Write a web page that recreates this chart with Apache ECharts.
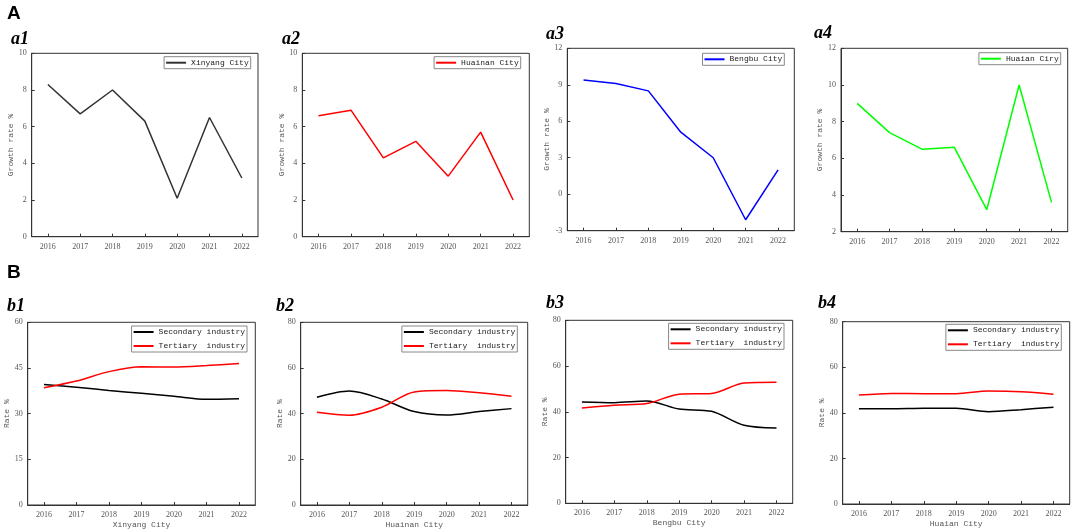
<!DOCTYPE html>
<html>
<head>
<meta charset="utf-8">
<title>Growth rate and industry structure</title>
<script src="https://cdn.jsdelivr.net/npm/echarts@6/dist/echarts.min.js"></script>
<style>
  html, body { margin: 0; padding: 0; background: #fff; }
  #chart_container { width: 1072px; height: 532px; }
</style>
</head>
<body>
<div id="chart_container"></div>
<script>
// years on every x axis
const years = ["2016", "2017", "2018", "2019", "2020", "2021", "2022"]

// A: growth rate %
const xinyangGrowth = [8.3, 6.7, 8.0, 6.3, 2.1, 6.5, 3.2]
const huainanGrowth = [6.6, 6.9, 4.3, 5.2, 3.3, 5.7, 2.0]
const bengbuGrowth = [9.4, 9.1, 8.5, 5.1, 3.0, -2.1, 2.0]
const huaianGrowth = [9.0, 7.4, 6.5, 6.6, 3.2, 10.0, 3.6]

// B: share of secondary / tertiary industry %
const xinyangSecondary = [39.6, 38.7, 37.6, 36.7, 35.7, 34.7, 34.9]
const xinyangTertiary = [38.5, 40.7, 43.8, 45.4, 45.3, 45.8, 46.5]
const huainanSecondary = [47.2, 49.9, 46.4, 40.9, 39.4, 40.9, 42.2]
const huainanTertiary = [40.6, 39.3, 42.8, 49.5, 50.1, 49.1, 47.6]
const bengbuSecondary = [44.3, 44.0, 44.7, 41.2, 40.2, 34.1, 32.9]
const bengbuTertiary = [41.7, 42.9, 43.6, 47.7, 48.0, 52.6, 52.9]
const huaianSecondary = [41.8, 41.8, 42.0, 42.0, 40.5, 41.4, 42.5]
const huaianTertiary = [47.8, 48.5, 48.4, 48.4, 49.6, 49.3, 48.2]

const topNames = ["Xinyang City", "Huainan City", "Bengbu City", "Huaian Ciry"]
const bottomNames = ["Xinyang City", "Huainan City", "Bengbu City", "Huaian City"]
const industryNames = ["Secondary industry", "Tertiary  industry"]

document.addEventListener("DOMContentLoaded", buildCharts);

// panel boxes [left, top, width, height] and legend [right, top]
const panels = [
    {grid:[31.7, 53.3, 226.3, 183.4], legend:[821.3, 56.7], y:[0, 10, 2], label:"a1", lp:[6, 25]},
    {grid:[302.3, 53.3, 227, 183.4], legend:[551.3, 56.7], y:[0, 10, 2], label:"a2", lp:[277, 25]},
    {grid:[567.3, 48.3, 227, 182.4], legend:[287.7, 53.3], y:[-3, 12, 3], label:"a3", lp:[541, 20]},
    {grid:[841, 48.3, 226.7, 183.4], legend:[11.3, 52.7], y:[2, 12, 2], label:"a4", lp:[809, 19]},
    {grid:[27.7, 322.3, 227.6, 182.7], legend:[825, 326], y:[0, 60, 15], label:"b1", lp:[2, 292]},
    {grid:[300.7, 322.3, 227, 182.7], legend:[554.7, 326], y:[0, 80, 20], label:"b2", lp:[271, 292]},
    {grid:[565.7, 320.3, 227, 183], legend:[288, 323.3], y:[0, 80, 20], label:"b3", lp:[541, 289]},
    {grid:[842.7, 321.7, 227, 182.3], legend:[10.7, 324.3], y:[0, 80, 20], label:"b4", lp:[813, 289]}
]

const topSeries = [
    {data: xinyangGrowth, color: "#333333"},
    {data: huainanGrowth, color: "#ff0000"},
    {data: bengbuGrowth, color: "#0000ff"},
    {data: huaianGrowth, color: "#00ff00"}
]
const bottomSeries = [
    [xinyangSecondary, xinyangTertiary],
    [huainanSecondary, huainanTertiary],
    [bengbuSecondary, bengbuTertiary],
    [huaianSecondary, huaianTertiary]
]

function buildCharts(){
    let chart = echarts.init(document.getElementById('chart_container'), null, {renderer: 'canvas'})

    let tickFont = {fontFamily: "Liberation Serif", fontSize: 8, color: "#555"}
    let monoFont = {fontFamily: "Liberation Mono", fontSize: 8, color: "#555"}

    let grid = [], xAxis = [], yAxis = [], series = [], legend = []
    let title = [
        {text: "A", left: 2, top: -1, textStyle: {fontFamily: "Liberation Sans", fontWeight: "bold", fontSize: 19, color: "#000"}},
        {text: "B", left: 2, top: 258, textStyle: {fontFamily: "Liberation Sans", fontWeight: "bold", fontSize: 19, color: "#000"}}
    ]

    panels.forEach((p, i) => {
        let isTop = i < 4
        grid.push({
            left: p.grid[0], top: p.grid[1], width: p.grid[2], height: p.grid[3],
            show: true, borderColor: "#333", borderWidth: 1, backgroundColor: "transparent"
        })
        title.push({
            text: p.label, left: p.lp[0], top: p.lp[1],
            textStyle: {fontFamily: "Liberation Serif", fontStyle: "italic", fontWeight: "bold", fontSize: 18, color: "#000"}
        })
        xAxis.push({
            type: "category", gridIndex: i, data: years, boundaryGap: true,
            name: isTop ? "" : bottomNames[i - 4],
            nameLocation: "middle", nameGap: 16, nameTextStyle: monoFont,
            axisLine: {show: true, onZero: false, lineStyle: {color: "#333"}},
            axisTick: {show: true, inside: true, alignWithLabel: true, length: 3, lineStyle: {color: "#333"}},
            axisLabel: {...tickFont, margin: 6},
            splitLine: {show: false}
        })
        yAxis.push({
            type: "value", gridIndex: i, min: p.y[0], max: p.y[1], interval: p.y[2],
            name: isTop ? "Growth rate %" : "Rate %",
            nameLocation: "middle", nameGap: isTop ? 14 : 13, nameTextStyle: monoFont,
            axisLine: {show: true, onZero: false, lineStyle: {color: "#333"}},
            axisTick: {show: true, inside: true, length: 3, lineStyle: {color: "#333"}},
            axisLabel: {...tickFont, margin: 5},
            splitLine: {show: false}
        })

        let legendBase = {
            right: p.legend[0], top: p.legend[1], orient: "vertical",
            borderColor: "#888", borderWidth: 1, padding: [2, 2, 2, 2],
            icon: "rect", itemWidth: 20, itemHeight: 2, itemGap: 6,
            textStyle: {fontFamily: "Liberation Mono", fontSize: 8, color: "#222"}
        }

        if (isTop){
            let s = topSeries[i]
            let name = topNames[i]
            series.push({
                name: name, type: "line", xAxisIndex: i, yAxisIndex: i,
                data: s.data, symbol: "none", color: s.color,
                lineStyle: {color: s.color, width: 1.5}
            })
            legend.push({...legendBase, data: [name]})
        } else {
            let pair = bottomSeries[i - 4]
            let colors = ["#000000", "#ff0000"]
            pair.forEach((d, k) => {
                series.push({
                    name: industryNames[k], type: "line", xAxisIndex: i, yAxisIndex: i,
                    data: d, symbol: "none", smooth: 0.3, color: colors[k],
                    lineStyle: {color: colors[k], width: 1.5}
                })
            })
            legend.push({...legendBase, data: industryNames})
        }
    })

    let option = {
        animation: false,
        backgroundColor: "#fff",
        title: title,
        grid: grid,
        xAxis: xAxis,
        yAxis: yAxis,
        legend: legend,
        series: series
    }

    if (chart){
        chart.setOption(option)
    } else {
        console.error("Echart instance failed to init")
    }
}
</script>
</body>
</html>
